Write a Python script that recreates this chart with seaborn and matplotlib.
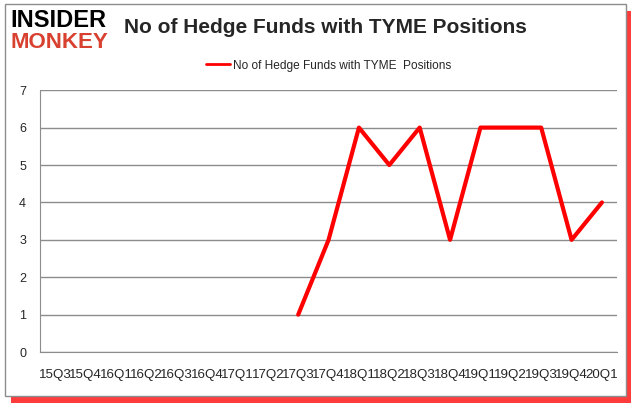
import numpy as np
import pandas as pd
import matplotlib
matplotlib.use("Agg")
import matplotlib.pyplot as plt
import seaborn as sns
from matplotlib.patches import Rectangle

quarters = ["15Q3", "15Q4", "16Q1", "16Q2", "16Q3", "16Q4", "17Q1", "17Q2", "17Q3",
            "17Q4", "18Q1", "18Q2", "18Q3", "18Q4", "19Q1", "19Q2", "19Q3", "19Q4", "20Q1"]
funds = [np.nan, np.nan, np.nan, np.nan, np.nan, np.nan, np.nan, np.nan, 1,
         3, 6, 5, 6, 3, 6, 6, 6, 3, 4]
series_name = "No of Hedge Funds with TYME  Positions"

df = pd.DataFrame({"pos": range(len(quarters)), "funds": funds})

sns.set_style("white")
plt.rcParams["font.family"] = ["Liberation Sans", "DejaVu Sans"]

fig = plt.figure(figsize=(6.37, 4.08), dpi=100)

# frame with red shadow
fig.patches.append(Rectangle((0.018, 0.012), 0.972, 0.962, transform=fig.transFigure,
                             facecolor="#ff1a1a", edgecolor="none", alpha=0.85, zorder=-2))
fig.patches.append(Rectangle((0.008, 0.03), 0.975, 0.96, transform=fig.transFigure,
                             facecolor="white", edgecolor="#8c8c8c", linewidth=1, zorder=-1))

ax = fig.add_axes([0.0628, 0.137, 0.906, 0.642])
ax.set_facecolor("none")
sns.lineplot(data=df, x="pos", y="funds", color="#ff0000", linewidth=3, ax=ax,
             label=series_name, legend=False)

ax.set_ylim(0, 7)
ax.set_yticks(range(0, 8))
ax.set_xlim(-0.5, len(quarters) - 0.5)
ax.set_xticks(np.arange(len(quarters) + 1) - 0.5)
ax.set_xticklabels([])
ax.set_xticks(range(len(quarters)), minor=True)
ax.set_xticklabels(quarters, minor=True, fontsize=9.6)
ax.tick_params(axis="x", which="major", length=5, color="#8c8c8c", direction="out")
ax.tick_params(axis="x", which="minor", length=0, pad=12)
ax.tick_params(axis="y", length=0, labelsize=9, pad=10)
ax.yaxis.grid(True, color="#8c8c8c", linewidth=1)
for s in ["top", "right"]:
    ax.spines[s].set_visible(False)
ax.spines["left"].set_color("#8c8c8c")
ax.spines["bottom"].set_color("#8c8c8c")
ax.set_xlabel("")
ax.set_ylabel("")

leg = ax.legend(loc="lower center", bbox_to_anchor=(0.5, 1.03), frameon=False,
                fontsize=8.6, handlelength=2.0, handletextpad=0.3)
for h in leg.get_lines():
    h.set_linewidth(2)

fig.text(0.195, 0.932, "No of Hedge Funds with TYME Positions", fontsize=15,
         fontweight="bold", va="center", ha="left")
fig.text(0.016, 0.95, "INSIDER", fontsize=17, fontweight="heavy", color="black",
         va="center", ha="left")
fig.text(0.016, 0.895, "MONKEY", fontsize=16, fontweight="heavy", color="#d8412f",
         va="center", ha="left")

fig.savefig("out.png", dpi=100)
